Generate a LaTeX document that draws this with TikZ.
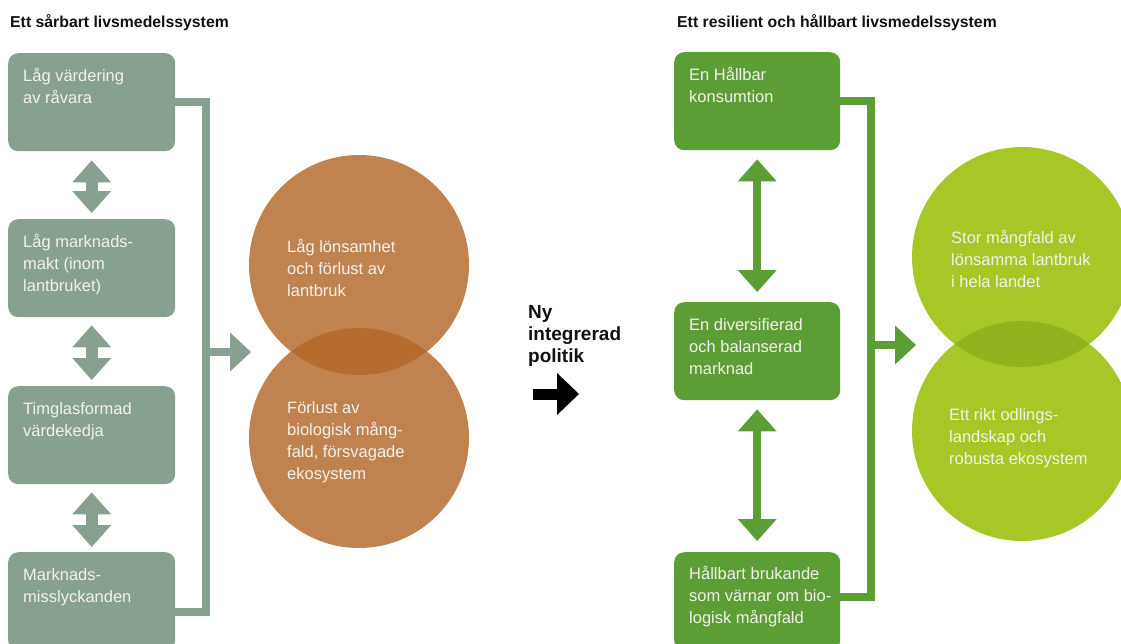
\documentclass[tikz,border=0pt]{standalone}
\usepackage{fontspec}
\setmainfont{Liberation Sans}
\usetikzlibrary{arrows.meta,calc}
\definecolor{sage}{HTML}{87A08F}
\definecolor{brownA}{HTML}{C0834F}
\definecolor{brownB}{HTML}{B56C2E}
\definecolor{grn}{HTML}{5B9E35}
\definecolor{limeA}{HTML}{A6C726}
\definecolor{limeB}{HTML}{92B31E}
\definecolor{txt}{HTML}{F4F1EA}
\definecolor{ink}{HTML}{111111}
\begin{document}
\begin{tikzpicture}[x=1pt,y=-1pt,
  boxbase/.style={rectangle, rounded corners=10pt, minimum height=98pt, inner sep=0pt, anchor=north west},
  lbox/.style={boxbase, fill=sage, minimum width=167pt},
  rbox/.style={boxbase, fill=grn, minimum width=166pt},
  btext/.style={anchor=base west, align=left, inner sep=0pt, text=txt, font=\fontsize{16.5}{22.3}\selectfont},
  ttl/.style={anchor=base west, inner sep=0pt, text=ink, font=\bfseries\fontsize{15.8}{18}\selectfont},
  circ/.style={circle, minimum size=220pt, inner sep=0pt},
  ldbl/.style={draw=sage, line width=12pt, {Triangle[width=39pt,length=22pt,line width=0pt]}-{Triangle[width=39pt,length=22pt,line width=0pt]}},
  rdbl/.style={draw=grn, line width=8pt, {Triangle[width=39pt,length=22pt,line width=0pt]}-{Triangle[width=39pt,length=22pt,line width=0pt]}},
  lbrk/.style={draw=sage, line width=8pt, line join=miter},
  rbrk/.style={draw=grn, line width=8pt, line join=miter},
]
\clip (0,0) rectangle (1121,643);
\fill[white] (0,0) rectangle (1121,643);

% titles
\node[ttl] (t1) at (10,27) {Ett sårbart livsmedelssystem};
\node[ttl] (t2) at (677,27) {Ett resilient och hållbart livsmedelssystem};

% left boxes (text anchored at baseline of last line)
\node[lbox] (l1) at (8,53) {};
\node[lbox] (l2) at (8,219) {};
\node[lbox] (l3) at (8,386) {};
\node[lbox] (l4) at (8,552) {};
\node[btext] at ($(l1.north west)+(15,50.3)$) {Låg värdering\\av råvara};
\node[btext] at ($(l2.north west)+(15,72.6)$) {Låg marknads-\\makt (inom\\lantbruket)};
\node[btext] at ($(l3.north west)+(15,50.3)$) {Timglasformad\\värdekedja};
\node[btext] at ($(l4.north west)+(15,50.3)$) {Marknads-\\misslyckanden};

% left arrows
\draw[ldbl] ($(l1.south)+(0,9)$) -- ($(l2.north)+(0,-6)$);
\draw[ldbl] ($(l2.south)+(0,8)$) -- ($(l3.north)+(0,-6)$);
\draw[ldbl] ($(l3.south)+(0,8)$) -- ($(l4.north)+(0,-5)$);

% left bracket
\draw[lbrk] (l1.east) -- ++(31,0) |- ($(l4.east)+(0,11)$);
\coordinate (lj) at (206,352);
\coordinate (lt) at (251,352);
\draw[draw=sage, line width=8pt, -{Triangle[width=39pt,length=21pt,line width=0pt]}] (lj) -- (lt);

% left circles
\node[circ, fill=brownA] (c1) at (359,265) {};
\node[circ, fill=brownA] (c2) at (359,438) {};
\begin{scope}
  \clip (359,265) circle (110pt);
  \fill[brownB] (359,438) circle (110pt);
\end{scope}
\node[btext] at (287,296.6) {Låg lönsamhet\\och förlust av\\lantbruk};
\node[btext] at (287,479.9) {Förlust av\\biologisk mång-\\fald, försvagade\\ekosystem};

% middle
\node[anchor=base west, align=left, inner sep=0pt, text=ink, font=\bfseries\fontsize{19}{22}\selectfont] (mid) at (528,362) {Ny\\integrerad\\politik};
\coordinate (ms) at (533,394);
\coordinate (me) at (579,394);
\draw[draw=black, line width=11pt, -{Triangle[width=42pt,length=22pt,line width=0pt]}] (ms) -- (me);

% right boxes
\node[rbox] (r1) at (674,52) {};
\node[rbox] (r2) at (674,302) {};
\node[rbox] (r3) at (674,552) {};
\node[btext] at ($(r1.north west)+(15,50.3)$) {En Hållbar\\konsumtion};
\node[btext] at ($(r2.north west)+(15,72.6)$) {En diversifierad\\och balanserad\\marknad};
\node[btext] at ($(r3.north west)+(15,71.6)$) {Hållbart brukande\\som värnar om bio-\\logisk mångfald};

% right arrows
\draw[rdbl] ($(r1.south)+(0,9)$) -- ($(r2.north)+(0,-10)$);
\draw[rdbl] ($(r2.south)+(0,9)$) -- ($(r3.north)+(0,-11)$);

% right bracket
\draw[rbrk] (r1.east) -- ++(31,0) |- ($(r3.east)+(0,-4)$);
\coordinate (rj) at (871,345);
\coordinate (rt) at (916,345);
\draw[draw=grn, line width=8pt, -{Triangle[width=39pt,length=21pt,line width=0pt]}] (rj) -- (rt);

% right circles
\node[circ, fill=limeA] (d1) at (1022,257) {};
\node[circ, fill=limeA] (d2) at (1022,431) {};
\begin{scope}
  \clip (1022,257) circle (110pt);
  \fill[limeB] (1022,431) circle (110pt);
\end{scope}
\node[btext] at (951,287.6) {Stor mångfald av\\lönsamma lantbruk\\i hela landet};
\node[btext] at (949,464.6) {Ett rikt odlings-\\landskap och\\robusta ekosystem};
\end{tikzpicture}
\end{document}
